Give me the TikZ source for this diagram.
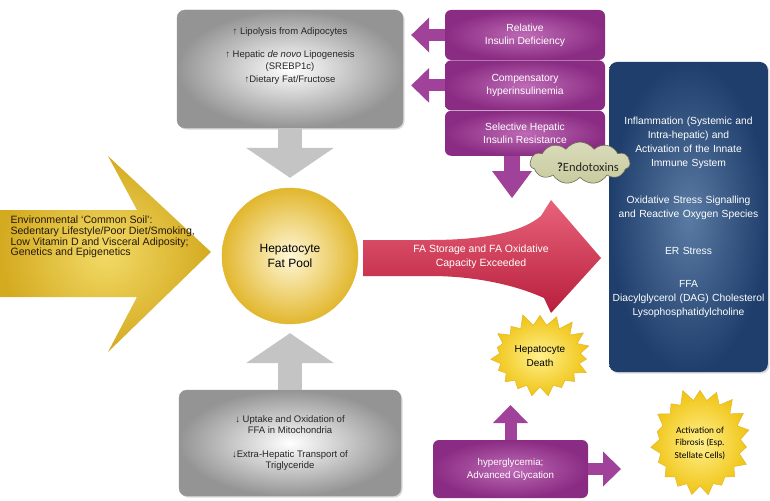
\documentclass[tikz,border=0pt]{standalone}
\usepackage{fontspec}
\setmainfont{Liberation Sans}
\newfontfamily\calibfont{Carlito}
\usetikzlibrary{arrows.meta,shapes.symbols,shadows,positioning}
\definecolor{grayedge}{HTML}{949494}
\definecolor{arrgray}{HTML}{C4C4C4}
\definecolor{purpmain}{HTML}{A0429A}
\definecolor{purplite}{HTML}{BE6AB6}
\definecolor{purpdark}{HTML}{8A2C83}
\definecolor{bluelite}{HTML}{5A7BA3}
\definecolor{bluedark}{HTML}{1F3E6C}
\definecolor{redlite}{HTML}{E8637A}
\definecolor{redmain}{HTML}{D2304E}
\definecolor{reddark}{HTML}{B81E3C}
\definecolor{goldedge}{HTML}{E2B72E}
\definecolor{goldlite}{HTML}{FFF8D8}
\definecolor{envlite}{HTML}{F2DA66}
\definecolor{envdark}{HTML}{D4AA20}
\definecolor{burstlite}{HTML}{FFF08C}
\definecolor{burstedge}{HTML}{F0C414}
\definecolor{cloudfill}{HTML}{C9CB9E}
\definecolor{cloudline}{HTML}{6B6B55}

\begin{document}
\begin{tikzpicture}[x=1pt, y=-1pt]
  \tikzset{graybox/.style={rounded corners=8pt, shade, inner color=white, outer color=grayedge,
             draw=gray!80, line width=.4pt, drop shadow={opacity=.3, shadow xshift=1.5pt, shadow yshift=-1.5pt}},
           gtext/.style={font=\fontsize{9.5}{11.5}\selectfont, text=black!85, align=center},
           purpbox/.style={rounded corners=6pt, shade, inner color=purplite, outer color=purpdark,
             minimum width=160pt, text=white, align=center, font=\fontsize{10.3}{13}\selectfont},
           grayarr/.style={draw=arrgray, line width=24pt, -{Triangle[width=88pt, length=30pt, line width=0pt]}},
           purparr/.style={draw=purpmain, line width=12pt, -{Triangle[width=35pt, length=18pt, line width=0pt]}},
           burst/.style={starburst, starburst points=19, starburst point height=13pt, random starburst=11,
             shade, inner color=burstlite, outer color=burstedge, draw=goldedge, line width=.5pt, align=center}}
  \useasboundingbox[fill=white] (0,0) rectangle (770,500);

  \shade[inner color=envlite, outer color=envdark] (0,210) -- (137,210) -- (108,156) -- (211,252)
        -- (108,352) -- (137,297) -- (0,297) -- cycle;
  \node[anchor=west, align=left, text=black!80!brown, font=\fontsize{10.6}{10.8}\selectfont] (env) at (7,237)
        {Environmental ‘Common Soil’:\\Sedentary Lifestyle/Poor Diet/Smoking,\\Low Vitamin D and Visceral Adiposity;\\Genetics and Epigenetics};

  \node[circle, minimum size=136pt, shade, inner color=goldlite, outer color=goldedge, draw=goldedge,
        font=\fontsize{12}{15}\selectfont, align=center] (pool) at (290,256) {Hepatocyte\\Fat Pool};

  \node[graybox, minimum width=226pt, minimum height=118pt] (topbox) at (290,69) {};
  \node[gtext] (toptext) at (290,56) {↑ Lipolysis from Adipocytes\\[12pt]↑ Hepatic \emph{de novo} Lipogenesis\\(SREBP1c)\\[2pt]↑Dietary Fat/Fructose};
  \node[graybox, gtext, minimum width=222pt, minimum height=106pt] (botbox) at (290,443)
        {↓ Uptake and Oxidation of\\FFA in Mitochondria\\[12pt]↓Extra-Hepatic Transport of\\Triglyceride};
  \draw[grayarr, shorten >=10pt] (topbox.south) -- (pool.north);
  \draw[grayarr, shorten >=9pt] (botbox.north) -- (pool.south);

  \node[rounded corners=8pt, shade, inner color=bluelite, outer color=bluedark, minimum width=153pt,
        minimum height=310pt, text width=152pt, align=center, text=white, font=\fontsize{10.3}{14}\selectfont,
        drop shadow={opacity=.3, shadow xshift=1.5pt, shadow yshift=-1.5pt}] (stress) at (688.5,217)
        {Inflammation (Systemic and\\Intra-hepatic) and\\Activation of the Innate\\Immune System\\[23pt]
         Oxidative Stress Signalling\\and Reactive Oxygen Species\\[23pt]ER Stress\\[19pt]
         FFA\\Diacylglycerol (DAG) Cholesterol\\Lysophosphatidylcholine};

  \shade[top color=redlite, middle color=redmain, bottom color=reddark] (363,240) -- (430,240)
        .. controls (485,240) and (522,232) .. (541,216) -- (551,200) -- (601,258) -- (551,313) -- (544,298)
        .. controls (520,287) and (480,276) .. (430,276) -- (363,276) -- cycle;
  \node[text=white, align=center, font=\fontsize{10.5}{14}\selectfont] (fatext) at (481,257)
        {FA Storage and FA Oxidative\\Capacity Exceeded};

  \node[purpbox, minimum height=50pt] (reldef) at (525,35) {Relative\\Insulin Deficiency};
  \node[purpbox, minimum height=50pt, below=0pt of reldef] (comphyp) {Compensatory\\hyperinsulinemia};
  \node[purpbox, minimum height=45pt, below=0pt of comphyp] (insres) {Selective Hepatic\\Insulin Resistance};
  \coordinate (fatop) at (512,198);
  \draw[purparr, shorten >=8pt] (reldef.west) -- (topbox.east |- reldef.west);
  \draw[purparr, shorten >=8pt] (comphyp.west) -- (topbox.east |- comphyp.west);
  \draw[purparr, line width=16pt, -{Triangle[width=40pt, length=27pt, line width=0pt]}]
        ([xshift=-13pt]insres.south) -- (fatop);

  \node[cloud, cloud puffs=11, cloud puff arc=110, aspect=2.6, minimum width=100pt, minimum height=42pt, shade,
        top color=cloudfill!70!white, bottom color=cloudfill, draw=cloudline, line width=.6pt] (endo) at (580,163) {};
  \node[font=\calibfont\fontsize{12.5}{14}\selectfont, text=black!85] (endotext) at (588,167) {\textbf{?}Endotoxins};

  \node[burst, minimum width=100pt, minimum height=88pt, font=\fontsize{10}{14}\selectfont] (death) at (540,356)
        {Hepatocyte\\Death};
  \node[burst, minimum width=106pt, minimum height=112pt, font=\calibfont\fontsize{9.3}{12.5}\selectfont] (fib) at (700,443)
        {Activation of\\Fibrosis (Esp.\\Stellate Cells)};

  \node[purpbox, minimum width=155pt, minimum height=58pt, font=\fontsize{9.8}{13}\selectfont] (hyper) at (510.5,469)
        {hyperglycemia;\\Advanced Glycation};
  \coordinate (deathin) at (510.5,405);
  \coordinate (fibin) at (621,469);
  \draw[purparr] (hyper.north) -- (deathin);
  \draw[purparr] (hyper.east) -- (fibin);
\end{tikzpicture}
\end{document}
